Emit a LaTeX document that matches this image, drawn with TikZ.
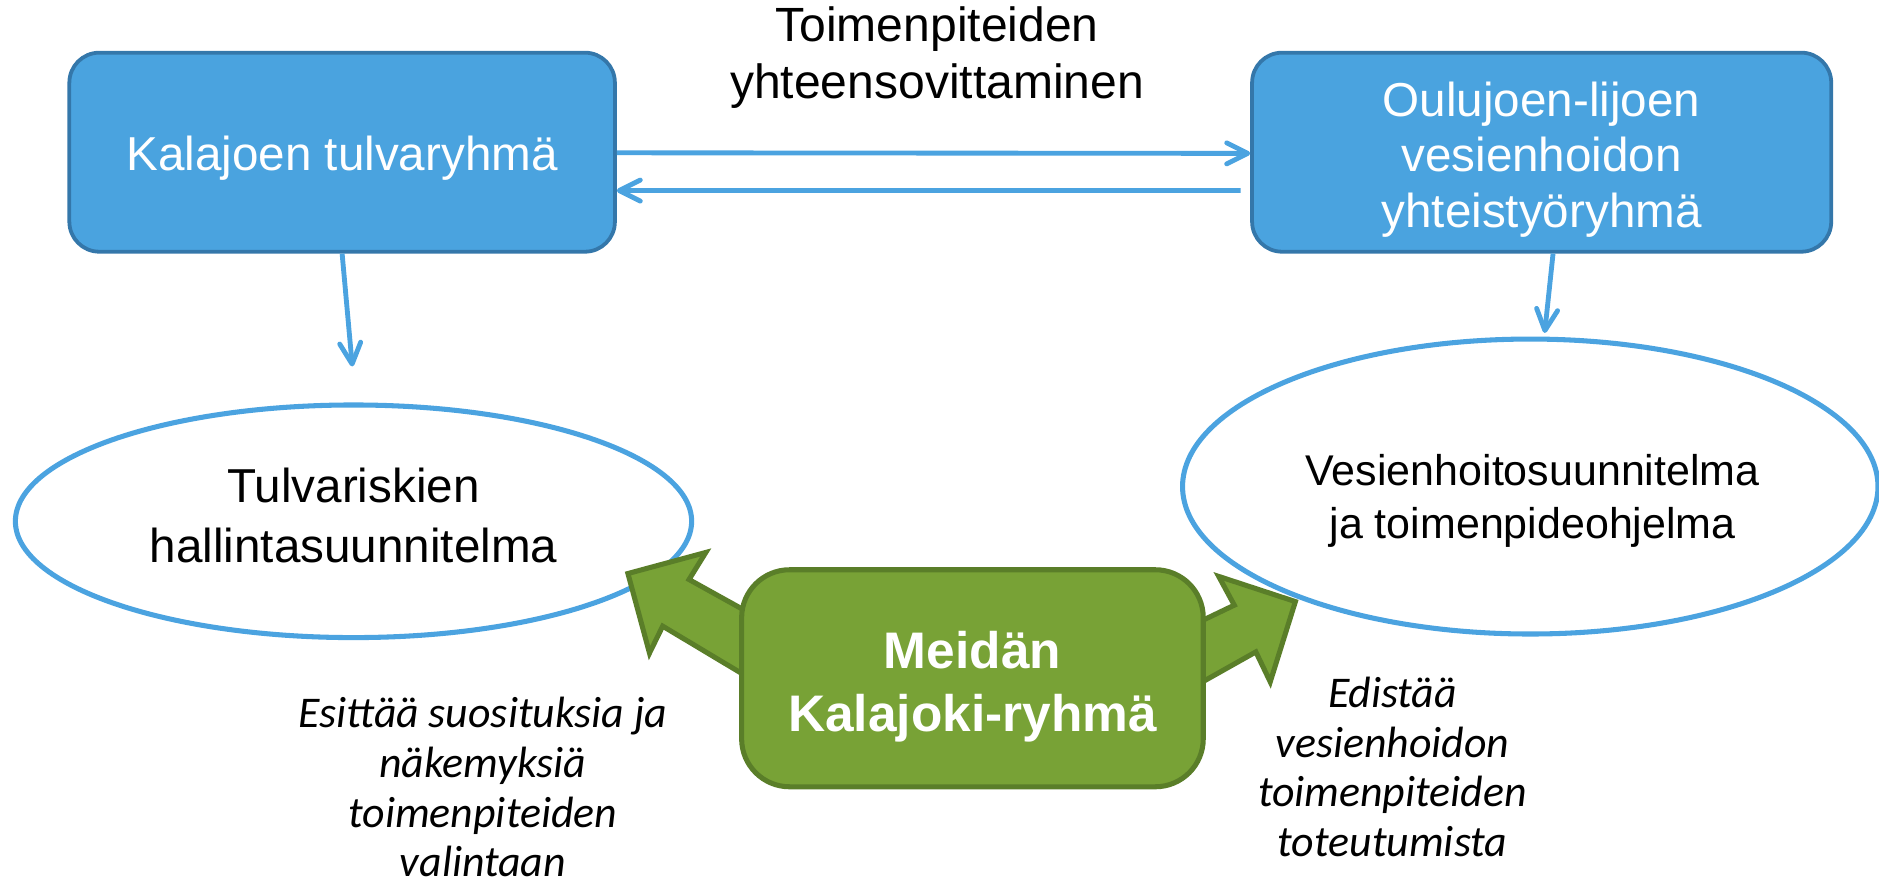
\documentclass[tikz,border=0pt]{standalone}
\usepackage{fontspec}
\setmainfont{Liberation Sans}
\newfontfamily\calib{Carlito}
\usetikzlibrary{shapes.geometric,arrows.meta}
\definecolor{boxblue}{HTML}{4AA3DF}
\definecolor{boxedge}{HTML}{3477AA}
\definecolor{lineblue}{HTML}{4BA3E0}
\definecolor{grfill}{HTML}{78A236}
\definecolor{gredge}{HTML}{5A7E29}
\begin{document}
\begin{tikzpicture}[x=0.01cm,y=-0.01cm,
  bluebox/.style={draw=boxedge,fill=boxblue,line width=0.9pt,rounded corners=0.25cm,inner sep=0pt},
  boxtext/.style={text=white,align=center,inner sep=0pt,font=\fontsize{11.3}{13.2}\selectfont},
  oval/.style={ellipse,draw=lineblue,line width=1.2pt,fill=white,inner sep=0pt},
  conn/.style={lineblue,line width=1.15pt,-{Straight Barb[length=5pt,width=5pt,round]}},
  greenbox/.style={draw=gredge,fill=grfill,line width=1.2pt,rounded corners=0.4cm,inner sep=0pt},
  greentext/.style={text=white,align=center,inner sep=0pt,font=\bfseries\fontsize{12.2}{15}\selectfont},
  blockarrow/.style={fill=grfill,draw=gredge,line width=1.2pt,line join=miter},
  note/.style={align=center,inner sep=0pt,font=\calib\itshape\fontsize{10.4}{11.8}\selectfont},
  plain/.style={align=center,inner sep=0pt}
]
\useasboundingbox (0,0) rectangle (1568,739);

% top boxes
\node[bluebox,minimum width=4.55cm,minimum height=1.66cm] (kal) at (285.5,127) {};
\node[boxtext] (kalt) at (285.5,132) {Kalajoen tulvaryhmä};
\node[bluebox,minimum width=4.83cm,minimum height=1.66cm] (oul) at (1286.5,127) {};
\node[boxtext] (oult) at (1286.5,133) {Oulujoen-lijoen\\vesienhoidon\\yhteistyöryhmä};

% label
\node[plain,font=\fontsize{11.4}{13.7}\selectfont] (lab) at (782,48) {Toimenpiteiden\\yhteensovittaminen};

% ellipses
\node[oval,minimum width=5.64cm,minimum height=1.94cm] (tul) at (295,435) {};
\node[plain,font=\fontsize{11.3}{14.2}\selectfont] (tult) at (295,430) {Tulvariskien\\hallintasuunnitelma};
\node[oval,minimum width=5.8cm,minimum height=2.46cm] (ves) at (1277,406) {};
\node[plain,font=\fontsize{10.2}{12.8}\selectfont] (vest) at (1279,418) {Vesienhoitosuunnitelma\\ja toimenpideohjelma};

% connectors
\draw[conn] ([yshift=-0.005cm]kal.east) -- ([yshift=-0.01cm]oul.west);
\draw[conn] ([shift={(-8,32)}]oul.west) -- ([yshift=-0.32cm]kal.east);
\draw[conn] (kal.south) -- ([shift={(-1,-30)}]tul.north);
\draw[conn] ([xshift=0.095cm]oul.south) -- ([shift={(12,-3)}]ves.north);

% green block arrows
\draw[blockarrow] (635,516.9) -- (575,483.6) -- (589,461) -- (524,478.6) -- (542,545) -- (553,522.5) -- (635,571.6) -- cycle;
\draw[blockarrow] (990,524.2) -- (1030,505) -- (1017,481) -- (1081,502) -- (1060,569) -- (1048,544) -- (990,576.6) -- cycle;

% green box
\node[greenbox,minimum width=3.85cm,minimum height=1.81cm] (mei) at (811.5,566) {};
\node[greentext] (meit) at (811.5,573) {Meidän\\Kalajoki-ryhmä};

% notes
\node[note] (n1) at (403,657) {Esittää suosituksia ja\\näkemyksiä\\toimenpiteiden\\valintaan};
\node[note] (n2) at (1162,640) {Edistää\\vesienhoidon\\toimenpiteiden\\toteutumista};
\end{tikzpicture}
\end{document}
